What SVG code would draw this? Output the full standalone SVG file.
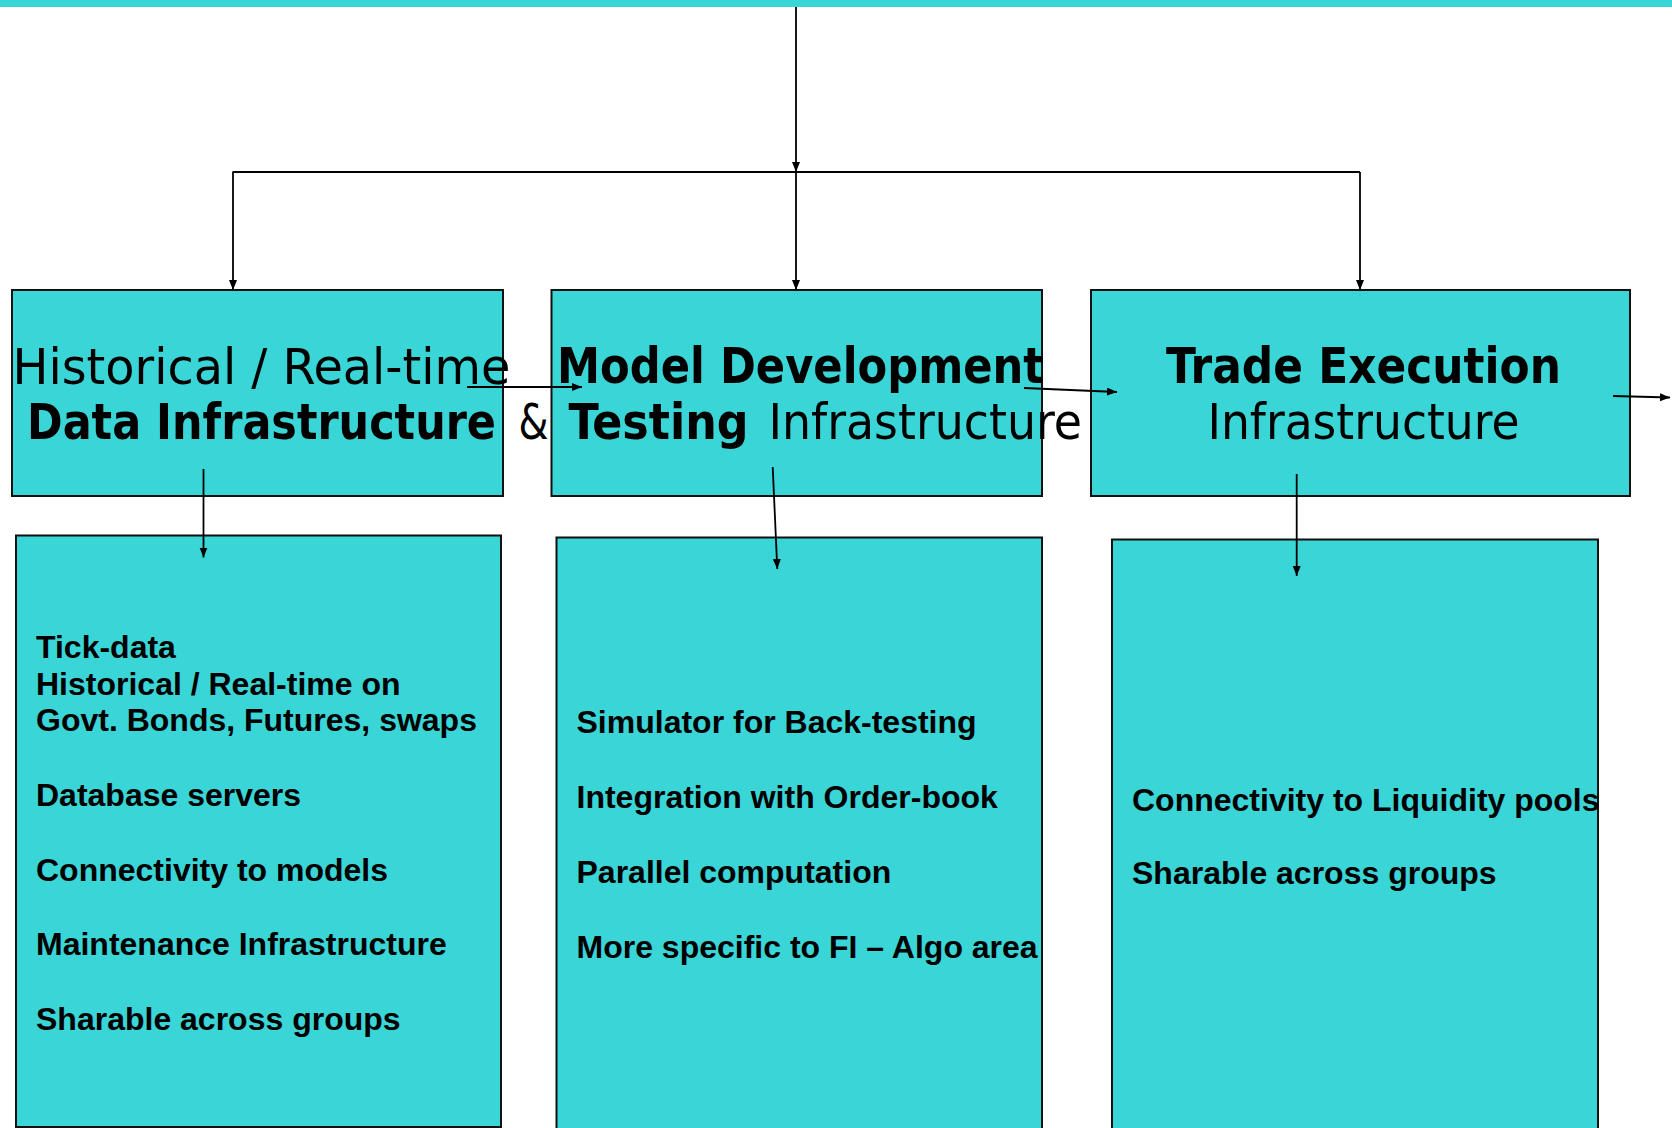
<svg xmlns="http://www.w3.org/2000/svg" width="1672" height="1128" viewBox="0 0 1672 1128">
  <style>
    .box { fill: #3AD5D6; stroke: #111111; stroke-width: 2; }
    .head { font-family: "DejaVu Sans", "Noto Sans", sans-serif; font-stretch: condensed; font-size: 50px; fill: #000000; }
    .b { font-weight: bold; }
    .item { font-family: "Liberation Sans", Arial, sans-serif; font-weight: bold; font-size: 32px; fill: #000000; }
    .wire { stroke: #000000; stroke-width: 1.8; fill: none; }
  </style>
  <defs>
    <marker id="tip" markerUnits="userSpaceOnUse" markerWidth="11" markerHeight="9" refX="10" refY="4" orient="auto">
      <path d="M0,0 L10,4 L0,8 Z" fill="#000000"/>
    </marker>
  </defs>

  <!-- page background and title band -->
  <rect x="0" y="0" width="1672" height="1128" fill="#FFFFFF"/>
  <rect x="0" y="0" width="1672" height="7" fill="#3AD5D6"/>

  <!-- upper tier: infrastructure areas -->
  <g id="data-infra">
    <rect class="box" x="12" y="290" width="491" height="206"/>
    <text class="head" x="12.5" y="384" textLength="498" lengthAdjust="spacingAndGlyphs">Historical / Real-time</text>
    <text class="head b" x="27" y="439" textLength="469" lengthAdjust="spacingAndGlyphs">Data Infrastructure</text>
    <text class="head" x="518.5" y="439" textLength="30" lengthAdjust="spacingAndGlyphs">&amp;</text>
  </g>
  <g id="model-infra">
    <rect class="box" x="551.5" y="290" width="490.5" height="206"/>
    <text class="head b" x="557" y="383" textLength="487" lengthAdjust="spacingAndGlyphs">Model Development</text>
    <text class="head b" x="568.5" y="439" textLength="180" lengthAdjust="spacingAndGlyphs">Testing</text>
    <text class="head" x="768.5" y="439" textLength="313.5" lengthAdjust="spacingAndGlyphs">Infrastructure</text>
  </g>
  <g id="trade-infra">
    <rect class="box" x="1091" y="290" width="539" height="206"/>
    <text class="head b" x="1166" y="383" textLength="395" lengthAdjust="spacingAndGlyphs">Trade Execution</text>
    <text class="head" x="1207.5" y="439" textLength="312" lengthAdjust="spacingAndGlyphs">Infrastructure</text>
  </g>

  <!-- lower tier: components of each area -->
  <g id="data-items">
    <rect class="box" x="16" y="535.5" width="485" height="591.5"/>
    <text class="item" x="36" y="657.5">Tick-data</text>
    <text class="item" x="36" y="694.5">Historical / Real-time on</text>
    <text class="item" x="36" y="731">Govt. Bonds, Futures, swaps</text>
    <text class="item" x="36" y="806">Database servers</text>
    <text class="item" x="36" y="880.5">Connectivity to models</text>
    <text class="item" x="36" y="955">Maintenance Infrastructure</text>
    <text class="item" x="36" y="1029.5">Sharable across groups</text>
  </g>
  <g id="model-items">
    <rect class="box" x="556.5" y="537.5" width="485.5" height="600"/>
    <text class="item" x="576.5" y="733">Simulator for Back-testing</text>
    <text class="item" x="576.5" y="808">Integration with Order-book</text>
    <text class="item" x="576.5" y="883">Parallel computation</text>
    <text class="item" x="576.5" y="957.5">More specific to FI – Algo area</text>
  </g>
  <g id="trade-items">
    <rect class="box" x="1112" y="539.5" width="486" height="600"/>
    <text class="item" x="1132" y="810.5">Connectivity to Liquidity pools</text>
    <text class="item" x="1132" y="883.5">Sharable across groups</text>
  </g>

  <!-- connectors -->
  <g id="connectors">
    <line class="wire" x1="796" y1="7" x2="796" y2="172" marker-end="url(#tip)"/>
    <line class="wire" x1="232.5" y1="172" x2="1360" y2="172"/>
    <line class="wire" x1="233" y1="172" x2="233" y2="290" marker-end="url(#tip)"/>
    <line class="wire" x1="796" y1="172" x2="796" y2="290" marker-end="url(#tip)"/>
    <line class="wire" x1="1360" y1="172" x2="1360" y2="290" marker-end="url(#tip)"/>
    <line class="wire" x1="467" y1="387" x2="582" y2="387" marker-end="url(#tip)"/>
    <line class="wire" x1="1024" y1="388" x2="1117" y2="392" marker-end="url(#tip)"/>
    <line class="wire" x1="1613" y1="396" x2="1670" y2="397.5" marker-end="url(#tip)"/>
    <line class="wire" x1="203.5" y1="469" x2="203.5" y2="557.5" marker-end="url(#tip)"/>
    <line class="wire" x1="772.7" y1="467" x2="777.3" y2="569" marker-end="url(#tip)"/>
    <line class="wire" x1="1296.7" y1="474" x2="1296.7" y2="576" marker-end="url(#tip)"/>
  </g>
</svg>
